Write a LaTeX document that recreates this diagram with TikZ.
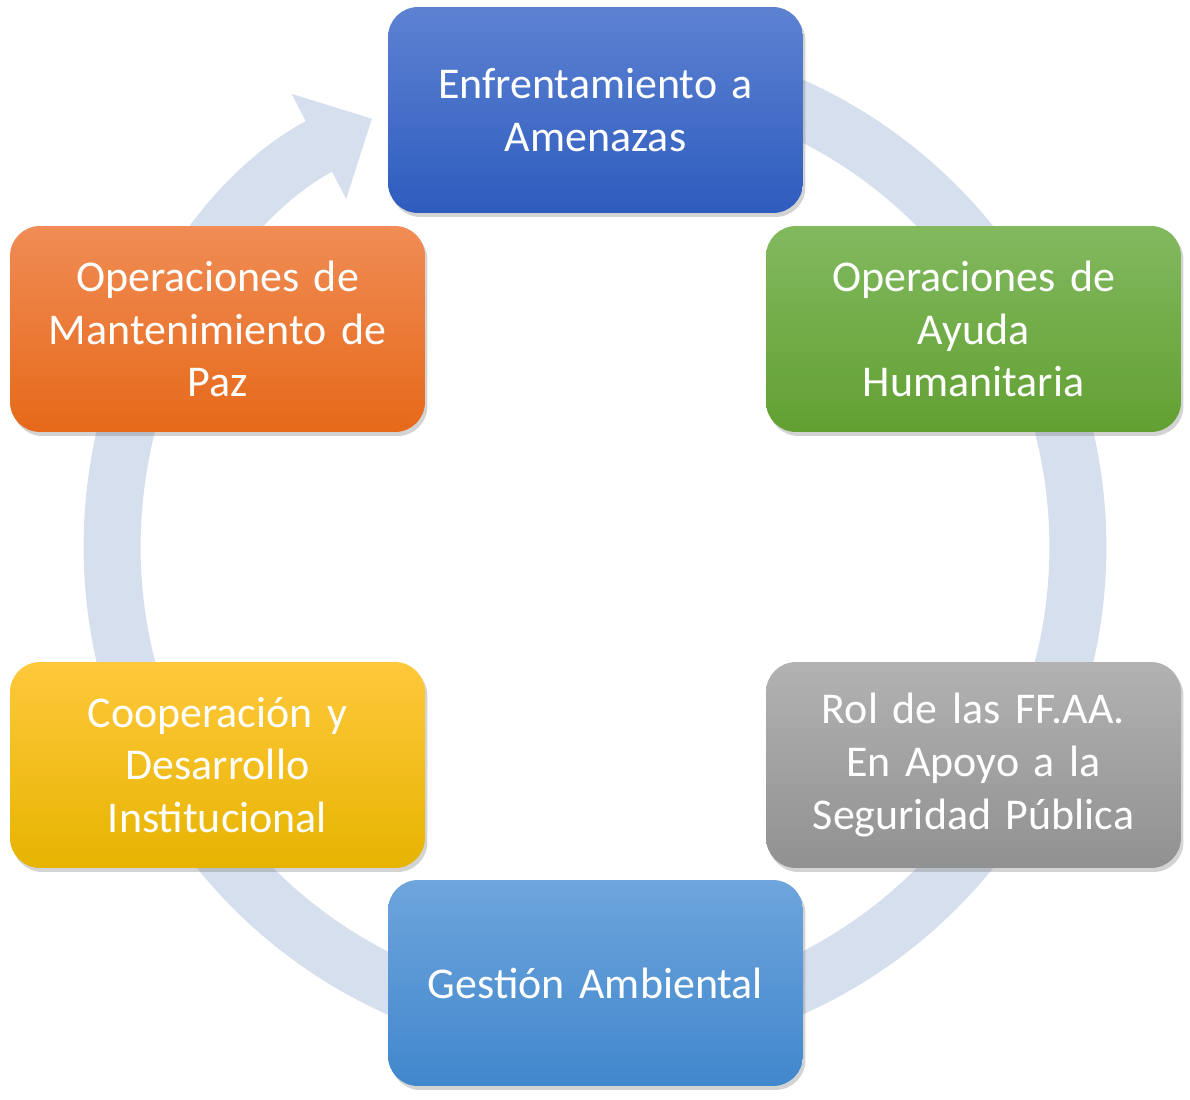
\documentclass[tikz,border=0pt]{standalone}
\usepackage{fontspec}
\setmainfont{Carlito}
\usetikzlibrary{arrows.meta,shadows}
\definecolor{ringc}{RGB}{214,223,238}
\definecolor{blueT}{RGB}{93,130,210}\definecolor{blueB}{RGB}{46,92,190}
\definecolor{greenT}{RGB}{130,185,95}\definecolor{greenB}{RGB}{98,160,50}
\definecolor{greyT}{RGB}{178,178,178}\definecolor{greyB}{RGB}{145,145,145}
\definecolor{skyT}{RGB}{110,165,220}\definecolor{skyB}{RGB}{65,135,205}
\definecolor{yellowT}{RGB}{255,200,60}\definecolor{yellowB}{RGB}{230,180,0}
\definecolor{orangeT}{RGB}{240,140,85}\definecolor{orangeB}{RGB}{230,105,25}
\tikzset{
  stage/.style={rectangle,rounded corners=0.6cm,minimum width=8.3cm,minimum height=4.12cm,
    text width=7.9cm,align=center,text=white,font=\fontsize{25}{30}\selectfont,
    drop shadow={shadow xshift=0.05cm,shadow yshift=-0.08cm,opacity=0.35}},
  shade/.style={top color=#1T,bottom color=#1B}
}
\begin{document}
\begin{tikzpicture}[x=0.02cm,y=-0.02cm]
  \useasboundingbox (0,0) rectangle (1190,1099);
  \coordinate (c) at (595,547);
  % ring with arrow
  \draw[ringc,line width=1.14cm,-{Triangle[width=2.3cm,length=1.2cm]}]
    (c) ++(90:9.66cm) arc[start angle=90,end angle=-242.5,radius=9.66cm];
  \node[stage,shade=blue] (threat) at (595.5,110) {Enfrentamiento a\\Amenazas};
  \node[stage,shade=green] (aid) at (973.5,329) {Operaciones de\\Ayuda\\Humanitaria};
  \node[stage,shade=grey] (role) at (973.5,765) {Rol de las FF.AA.\\En Apoyo a la\\Seguridad Pública};
  \node[stage,shade=sky] (env) at (595.5,983) {Gestión Ambiental};
  \node[stage,shade=yellow] (coop) at (217.5,765) {Cooperación y\\Desarrollo\\Institucional};
  \node[stage,shade=orange] (peace) at (217.5,329) {Operaciones de\\Mantenimiento de\\Paz};
\end{tikzpicture}
\end{document}
